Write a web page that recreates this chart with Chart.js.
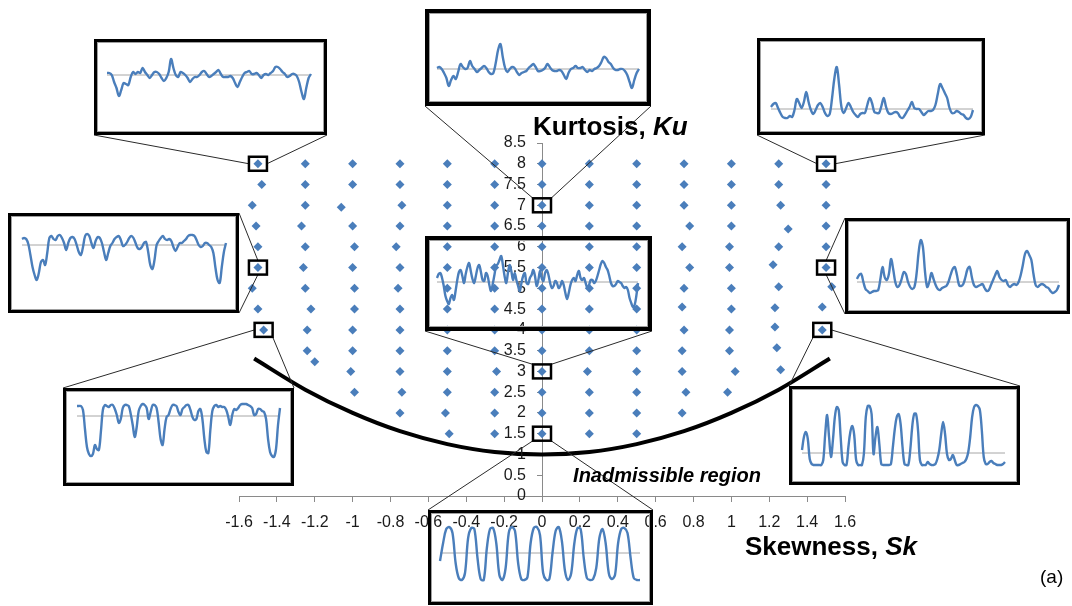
<!DOCTYPE html>
<html>
<head>
<meta charset="utf-8">
<script src="https://cdn.jsdelivr.net/npm/chart.js@4.4.1/dist/chart.umd.min.js"></script>
<style>
  html, body { margin: 0; padding: 0; background: #fff; }
  #stage { position: relative; width: 1072px; height: 606px; overflow: hidden; }
  #main { position: absolute; left: 0; top: 0; }
  .frame { position: absolute; box-sizing: border-box; border: 3px solid #000; box-shadow: inset 0 0 0 1px #a0a0a0; pointer-events: none; }
  .profile { position: absolute; }
</style>
</head>
<body>
<div id="stage">
  <canvas id="main" width="1072" height="606"></canvas>
</div>
<script>
// Sampled surfaces in the skewness / kurtosis plane
const skewness = [
  -1.5, -1.48, -1.53, -1.51, -1.5, -1.5, -1.53, -1.5, -1.47,
  -1.25, -1.25, -1.25, -1.27, -1.25, -1.26, -1.25, -1.22, -1.24, -1.24, -1.2,
  -1, -1, -1.06, -1, -0.99, -1, -0.99, -0.99, -1, -1, -1.01, -0.99,
  -0.75, -0.75, -0.74, -0.75, -0.77, -0.75, -0.76, -0.75, -0.75, -0.75, -0.75, -0.74, -0.75,
  -0.5, -0.5, -0.5, -0.5, -0.5, -0.5, -0.5, -0.5, -0.5, -0.5, -0.5, -0.5, -0.51, -0.49,
  -0.25, -0.25, -0.25, -0.25, -0.25, -0.25, -0.25, -0.25, -0.25, -0.25, -0.24, -0.25, -0.25, -0.25,
  0, 0, 0, 0, 0, 0, 0, 0, 0, 0, 0, 0, 0, 0,
  0.25, 0.25, 0.25, 0.25, 0.25, 0.25, 0.25, 0.25, 0.25, 0.25, 0.24, 0.25, 0.25, 0.25,
  0.5, 0.5, 0.5, 0.5, 0.5, 0.5, 0.5, 0.5, 0.5, 0.5, 0.5, 0.5, 0.5, 0.5,
  0.75, 0.75, 0.75, 0.78, 0.74, 0.78, 0.75, 0.74, 0.75, 0.74, 0.74, 0.76, 0.74,
  1, 1, 1, 1, 0.99, 0.99, 1, 1, 0.99, 0.99, 1.02, 0.98,
  1.25, 1.25, 1.26, 1.3, 1.25, 1.22, 1.25, 1.23, 1.23, 1.24, 1.26,
  1.5, 1.5, 1.5, 1.5, 1.5, 1.5, 1.53, 1.48, 1.48
];
const kurtosis = [
  8, 7.5, 7, 6.5, 6, 5.5, 5, 4.5, 4,
  8, 7.5, 7, 6.5, 6, 5.5, 5, 4.5, 4, 3.5, 3.23,
  8, 7.5, 6.95, 6.5, 6, 5.5, 5, 4.5, 4, 3.5, 3, 2.5,
  8, 7.5, 7, 6.5, 6, 5.5, 5, 4.5, 4, 3.5, 3, 2.5, 2,
  8, 7.5, 7, 6.5, 6, 5.5, 5, 4.5, 4, 3.5, 3, 2.5, 2, 1.5,
  8, 7.5, 7, 6.5, 6, 5.5, 5, 4.5, 4, 3.5, 3, 2.5, 2, 1.5,
  8, 7.5, 7, 6.5, 6, 5.5, 5, 4.5, 4, 3.5, 3, 2.5, 2, 1.5,
  8, 7.5, 7, 6.5, 6, 5.5, 5, 4.5, 4, 3.5, 3, 2.5, 2, 1.5,
  8, 7.5, 7, 6.5, 6, 5.5, 5, 4.5, 4, 3.5, 3, 2.5, 2, 1.5,
  8, 7.5, 7, 6.5, 6, 5.5, 5, 4.55, 4, 3.5, 3, 2.5, 2,
  8, 7.5, 7, 6.5, 6, 5.5, 5, 4.5, 4, 3.5, 3, 2.5,
  8, 7.5, 7, 6.43, 6, 5.57, 5.04, 4.53, 4.07, 3.57, 3.04,
  8, 7.5, 7, 6.5, 6, 5.5, 5.04, 4.55, 4
];

// Limit Ku = Sk^2 + 1 below which no distribution exists
const boundarySk = [-1.52, -1.25, -1, -0.75, -0.5, -0.25, 0, 0.25, 0.5, 0.75, 1, 1.25, 1.52];
const boundaryKu = [3.31, 2.56, 2, 1.56, 1.25, 1.06, 1, 1.06, 1.25, 1.56, 2, 2.56, 3.31];

// Surface height profiles (deviation from mean line) for selected samples
const profileSkM15Ku8 = [2,2,0,-7,-13,-21,-15,-8,-9,-10,-2,3,1,3,2,7,3,0,-3,0,3,3,1,-3,-6,-3,3,16,7,0,-2,3,2,0,-3,-7,-4,-2,-2,0,3,4,1,-2,-1,1,3,5,1,-2,-2,-2,-1,-3,-8,-12,-7,-2,2,3,4,1,1,2,0,-3,0,1,0,2,4,8,8,6,3,1,-2,-1,1,1,-1,-7,-17,-24,-13,-3,1];
const profileSk0Ku7 = [1,2,0,-4,-9,-17,-11,-7,-10,-3,5,2,0,1,8,3,0,-3,-1,1,3,1,-3,-5,-4,6,19,25,12,1,-3,0,2,1,-3,-6,-4,-3,-2,1,3,5,2,-2,-2,-1,1,5,2,-1,-2,-2,-1,-2,-6,-10,-4,0,1,3,1,1,2,-1,-3,-1,-2,0,1,3,7,12,11,7,5,1,-1,-1,0,0,-2,-6,-13,-19,-11,-4,0];
const profileSk15Ku8 = [2,5,6,1,-4,-8,-9,-9,-7,-8,-1,10,6,1,7,17,7,-1,-5,-1,4,6,2,-4,-7,-5,11,31,42,24,2,-4,1,6,2,-3,-6,-8,-5,-4,-4,4,11,6,-3,-4,-4,3,11,2,-4,-5,-4,-3,-4,-8,-9,-6,-2,2,7,1,0,0,-3,-6,-4,-2,-2,-1,4,15,25,21,16,11,1,-4,-4,-2,-3,-5,-6,-9,-10,-8,-1];
const profileSkM15Ku55 = [6,7,6,1,-10,-22,-30,-35,-28,-17,-15,-20,-8,7,9,6,5,9,10,7,2,-5,2,7,8,6,0,-7,-10,-2,9,11,9,2,-3,4,8,7,2,-7,-15,-8,-1,2,6,8,9,5,-1,0,3,7,9,7,2,-3,-4,-2,2,3,-7,-20,-24,-15,0,4,7,9,6,5,6,4,-2,-6,-2,2,2,4,6,9,10,10,9,5,0,-2,-1,2,2,0,-2,-8,-23,-35,-38,-22,-7,2];
const profileSk15Ku55 = [3,7,8,0,-7,-9,-11,-10,-9,-9,-8,3,15,5,2,8,23,13,0,-5,-3,3,10,8,0,-5,-7,-5,8,30,42,35,10,-5,0,9,3,-3,-7,-8,-6,-5,-4,0,7,13,15,7,-3,-4,-2,5,13,15,5,-3,-5,-4,-3,-2,-6,-9,-8,-3,2,7,11,5,2,1,2,-3,-5,-3,-2,-3,0,7,17,28,31,27,22,8,-3,-5,-3,-2,-3,-5,-6,-9,-11,-10,-8,-3];
const profileSk0Ku3 = [4,8,9,4,-4,-14,-19,-22,-16,-13,-18,-9,2,10,12,6,-1,8,15,19,11,3,-1,6,14,17,10,2,1,9,6,-3,-9,-2,7,16,18,22,26,17,6,-1,9,17,11,2,9,2,-4,-9,-1,6,9,-1,-2,4,7,12,6,-4,2,11,4,1,9,12,7,-1,-6,-4,1,-1,-6,-4,1,-3,-11,-17,-11,-3,2,4,1,7,11,4,2,4,-1,-6,-3,2,2,-1,1,6,12,18,21,19,15,12,6,-1,-4,-4,-2,1,0,-1,-4,-6,-5,-8,-16,-21,-25,-23,-14,-1];
const profileSkM15Ku4 = [10,10,10,6,-13,-31,-38,-40,-38,-29,-33,-34,-16,6,11,10,9,11,11,7,1,-7,-3,8,11,11,10,2,-9,-21,-11,5,10,12,11,8,-3,4,11,11,8,-6,-23,-29,-13,-1,1,7,11,11,10,4,1,7,9,11,11,6,-1,-4,-3,5,7,-3,-23,-36,-37,-14,5,10,11,9,10,9,9,6,-1,-9,1,7,6,8,11,12,12,12,11,10,8,1,2,7,7,5,4,-3,-23,-36,-40,-41,-33,-9,8];
const profileSk15Ku4 = [3,16,21,14,-6,-11,-12,-12,-12,-12,-12,-7,19,38,16,-4,13,36,46,43,16,-9,-12,-12,6,21,27,18,-7,-12,-12,-12,-1,36,47,47,39,-1,16,26,9,-11,-12,-12,-12,-12,-11,6,24,36,39,29,6,-11,-12,-12,3,26,39,39,23,-7,-12,-12,-12,-9,-11,-12,-12,-11,-6,3,19,31,19,-1,-7,-6,-2,-7,-12,-12,-11,-10,-9,-6,1,16,36,46,48,47,43,23,-4,-11,-11,-9,-8,-10,-11,-12,-12,-12,-11,-9];
const profileSk0Ku15 = [-8,10,24,26,20,-10,-25,-27,-20,15,25,24,-5,-26,-27,5,24,25,10,-22,-27,-15,20,26,22,-10,-26,-27,-24,10,25,26,18,-20,-27,-26,0,22,26,12,-18,-27,-20,10,25,24,-5,-25,-27,-26,-15,15,24,10,-20,-26,-22,10,24,25,20,-5,-25,-27,-27];

const BLUE = '#4A7EBB';
const FONT = "'Liberation Sans', Arial, sans-serif";
const TICK_COLOR = '#1a1a1a';

// Inset panels: frame rectangle, horizontal extent of the trace and its mean line,
// the sample it belongs to and which corners the leader lines join.
const panels = [
  { series: profileSkM15Ku8, box: [94, 39, 233, 96], span: [107, 311, 75], marker: [-1.5, 8], links: [['bl', 'l'], ['br', 'r']] },
  { series: profileSk0Ku7, box: [425, 9, 226, 97], span: [437, 639, 69], marker: [0, 7], links: [['bl', 'tl'], ['br', 'tr']], frame: 4 },
  { series: profileSk15Ku8, box: [757, 38, 228, 97], span: [771, 973, 109], marker: [1.5, 8], links: [['bl', 'l'], ['br', 'r']] },
  { series: profileSkM15Ku55, box: [8, 213, 231, 100], span: [22, 226, 245], marker: [-1.5, 5.5], links: [['tr', 't'], ['br', 'b']] },
  { series: profileSk15Ku55, box: [845, 218, 225, 96], span: [857, 1059, 282], marker: [1.5, 5.5], links: [['tl', 't'], ['bl', 'b']] },
  { series: profileSk0Ku3, box: [425, 236, 227, 95], span: [437, 638, 282], marker: [0, 3], links: [['bl', 'tl'], ['br', 'tr']], frame: 4 },
  { series: profileSkM15Ku4, box: [63, 388, 231, 98], span: [77, 280, 416], marker: [-1.47, 4], links: [['tl', 'l'], ['tr', 'br']] },
  { series: profileSk15Ku4, box: [789, 386, 231, 99], span: [802, 1005, 453], marker: [1.48, 4], links: [['tl', 'bl'], ['tr', 'r']] },
  { series: profileSk0Ku15, box: [428, 510, 225, 95], span: [440, 640, 553], marker: [0, 1.5], links: [['tl', 'bl'], ['tr', 'br']] }
];

const MARK_W = 18, MARK_H = 14;

function rectPoint(x, y, w, h, where) {
  const pts = {
    tl: [x, y], tr: [x + w, y], bl: [x, y + h], br: [x + w, y + h],
    l: [x, y + h / 2], r: [x + w, y + h / 2], t: [x + w / 2, y], b: [x + w / 2, y + h]
  };
  return pts[where];
}

const plainNumber = v => String(Math.round(v * 10) / 10);

const overlay = {
  id: 'overlay',
  afterDraw(chart) {
    const { ctx, scales } = chart;
    ctx.save();

    // Ku tick labels, set left of the axis where it crosses Sk = 0
    const axisX = scales.x.getPixelForValue(0);
    ctx.font = '16px ' + FONT;
    ctx.fillStyle = TICK_COLOR;
    ctx.textAlign = 'right';
    ctx.textBaseline = 'middle';
    scales.y.ticks.forEach(t => {
      ctx.fillText(plainNumber(t.value), axisX - 16, scales.y.getPixelForValue(t.value));
    });

    // leader lines and sample markers
    panels.forEach(p => {
      const cx = scales.x.getPixelForValue(p.marker[0]);
      const cy = scales.y.getPixelForValue(p.marker[1]);
      const mx = cx - MARK_W / 2, my = cy - MARK_H / 2;
      ctx.strokeStyle = '#2a2a2a';
      ctx.lineWidth = 1;
      p.links.forEach(([boxCorner, markCorner]) => {
        const a = rectPoint(p.box[0], p.box[1], p.box[2], p.box[3], boxCorner);
        const b = rectPoint(mx, my, MARK_W, MARK_H, markCorner);
        ctx.beginPath();
        ctx.moveTo(a[0], a[1]);
        ctx.lineTo(b[0], b[1]);
        ctx.stroke();
      });
      ctx.strokeStyle = '#000';
      ctx.lineWidth = 2.5;
      ctx.strokeRect(mx, my, MARK_W, MARK_H);
    });

    // axis titles and labels
    ctx.fillStyle = '#000';
    ctx.textBaseline = 'middle';
    ctx.textAlign = 'left';
    ctx.font = 'bold 26px ' + FONT;
    let x = 533;
    ctx.fillText('Kurtosis, ', x, 128);
    x += ctx.measureText('Kurtosis, ').width;
    ctx.font = 'italic bold 26px ' + FONT;
    ctx.fillText('Ku', x, 128);

    ctx.font = 'bold 26px ' + FONT;
    x = 745;
    ctx.fillText('Skewness, ', x, 548);
    x += ctx.measureText('Skewness, ').width;
    ctx.font = 'italic bold 26px ' + FONT;
    ctx.fillText('Sk', x, 548);

    ctx.font = 'italic bold 20px ' + FONT;
    ctx.textAlign = 'center';
    ctx.fillText('Inadmissible region', 667, 476);

    ctx.font = '19px ' + FONT;
    ctx.textAlign = 'left';
    ctx.fillText('(a)', 1040, 578);
    ctx.restore();
  }
};

const axisStyle = {
  grid: { drawOnChartArea: false, drawTicks: true, tickLength: 5, color: '#8a8a8a' },
  border: { display: true, color: '#8a8a8a', width: 1 }
};

new Chart(document.getElementById('main'), {
  type: 'scatter',
  data: {
    datasets: [
      {
        data: skewness.map((s, i) => ({ x: s, y: kurtosis[i] })),
        pointStyle: 'rectRot',
        pointRadius: 4.5,
        backgroundColor: BLUE,
        borderColor: BLUE,
        borderWidth: 0
      },
      {
        data: boundarySk.map((s, i) => ({ x: s, y: boundaryKu[i] })),
        showLine: true,
        borderColor: '#000',
        borderWidth: 4,
        pointRadius: 0,
        cubicInterpolationMode: 'monotone'
      }
    ]
  },
  options: {
    responsive: false,
    animation: false,
    events: [],
    layout: { padding: { left: 239, right: 227, top: 143, bottom: 110 } },
    plugins: { legend: { display: false }, tooltip: { enabled: false } },
    scales: {
      x: {
        type: 'linear', position: { y: 0 }, min: -1.6, max: 1.6,
        ticks: { stepSize: 0.2, autoSkip: false, maxRotation: 0, padding: 12, color: TICK_COLOR, font: { family: FONT, size: 16 }, callback: plainNumber },
        ...axisStyle
      },
      y: {
        type: 'linear', position: { x: 0 }, min: 0, max: 8.5,
        ticks: { stepSize: 0.5, autoSkip: false, display: false },
        ...axisStyle
      }
    }
  },
  plugins: [overlay]
});

// Profile insets, each on its own canvas placed over the main plot
const stage = document.getElementById('stage');
panels.forEach(p => {
  const [bx, by, bw, bh] = p.box;
  const [x0, x1, base] = p.span;
  const n = p.series.length;
  const perIndex = (x1 - x0) / (n - 1);

  const cv = document.createElement('canvas');
  cv.className = 'profile';
  cv.width = bw; cv.height = bh;
  cv.style.left = bx + 'px'; cv.style.top = by + 'px';
  stage.appendChild(cv);

  const frame = document.createElement('div');
  frame.className = 'frame';
  frame.style.left = bx + 'px'; frame.style.top = by + 'px';
  frame.style.width = bw + 'px'; frame.style.height = bh + 'px';
  if (p.frame) frame.style.borderWidth = p.frame + 'px';
  stage.appendChild(frame);

  new Chart(cv, {
    type: 'line',
    data: {
      datasets: [
        {
          data: p.series.map((v, i) => ({ x: i, y: v })),
          borderColor: BLUE, borderWidth: 2.4, pointRadius: 0, tension: 0.35
        },
        {
          data: [{ x: 0, y: 0 }, { x: n - 1, y: 0 }],
          borderColor: '#a6a6a6', borderWidth: 1, pointRadius: 0
        }
      ]
    },
    options: {
      responsive: false,
      animation: false,
      events: [],
      layout: { padding: 0 },
      plugins: { legend: { display: false }, tooltip: { enabled: false } },
      scales: {
        x: { type: 'linear', display: false, min: -(x0 - bx) / perIndex, max: (n - 1) + (bx + bw - x1) / perIndex },
        y: { type: 'linear', display: false, min: base - (by + bh), max: base - by }
      }
    }
  });
});
</script>
